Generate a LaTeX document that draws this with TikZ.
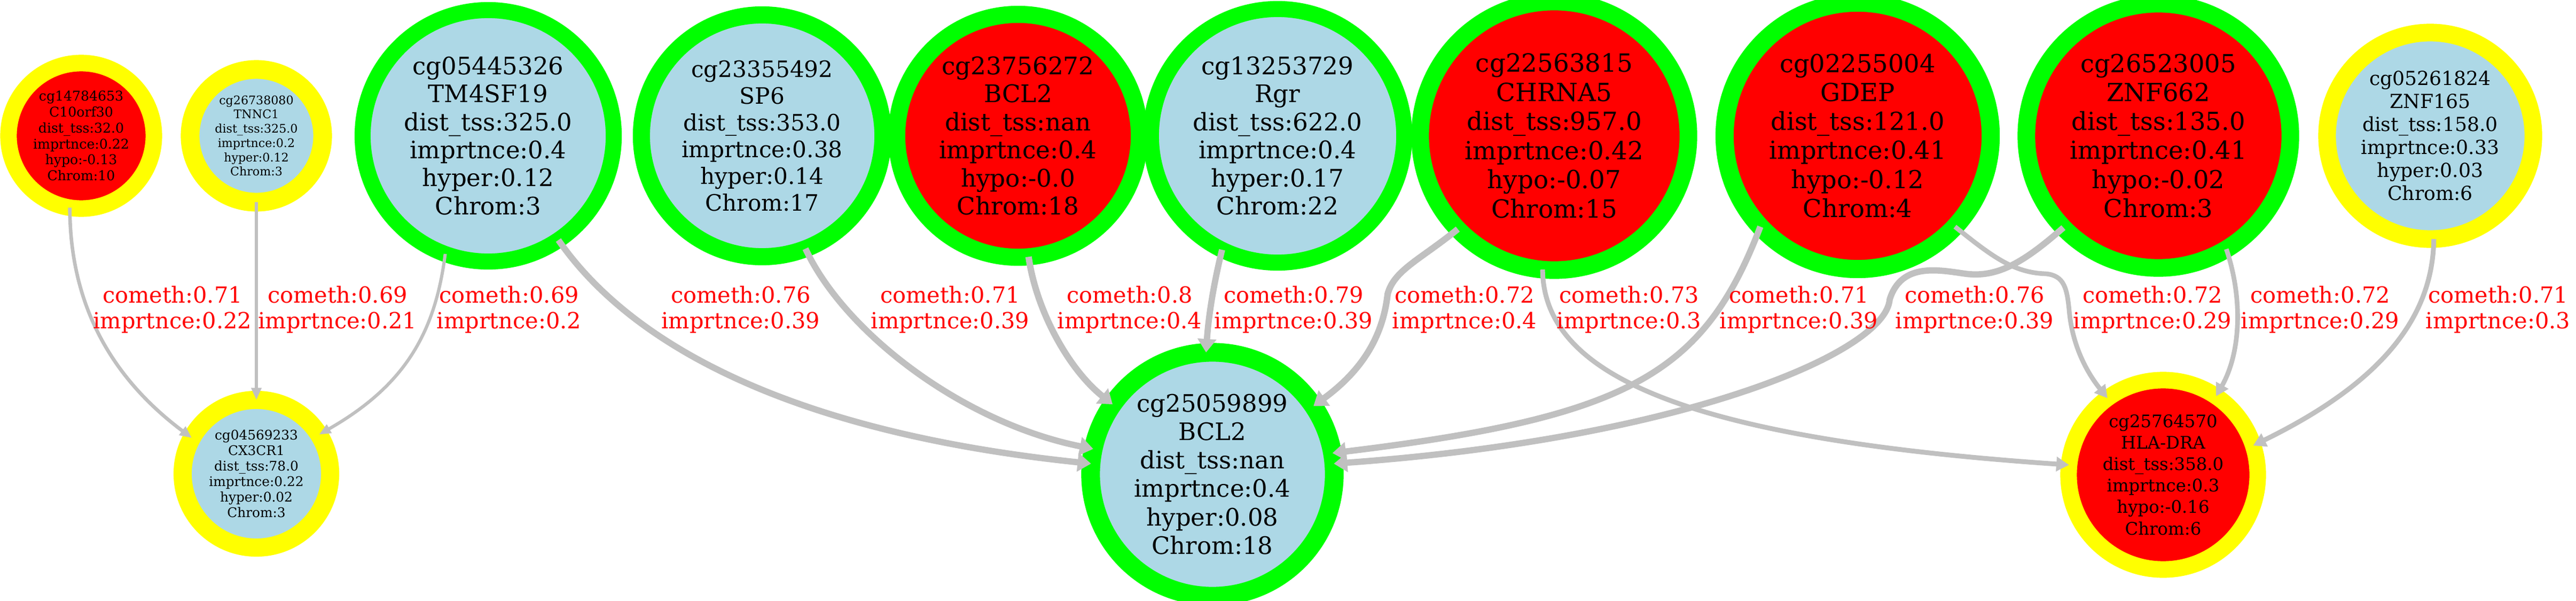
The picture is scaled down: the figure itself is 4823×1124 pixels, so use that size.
\documentclass[tikz,border=0pt]{standalone}
\usepackage{fontspec}
\setmainfont{DejaVu Serif}
\usetikzlibrary{arrows.meta}

\definecolor{hypored}{HTML}{FF0000}
\definecolor{hyperblue}{HTML}{ADD8E6}
\definecolor{hubgreen}{HTML}{00FF00}
\definecolor{leafyellow}{HTML}{FFFF00}
\definecolor{linkgray}{HTML}{C0C0C0}

\begin{document}
\begin{tikzpicture}[x=0.01cm,y=-0.01cm,
    cpg/.style={circle,inner sep=0pt,outer sep=0pt,align=center},
    hub/.style={cpg,draw=hubgreen},
    leaf/.style={cpg,draw=leafyellow},
    link/.style={draw=linkgray,line width=#1,-{Triangle[length=5.5pt 0.5,width=0pt 2.9]}},
    weight/.style={text=hypored,align=center,font=\fontsize{11.8}{13.7}\selectfont}]

    % white page, cut at the frame
    \useasboundingbox (0,0) rectangle (4823,1124);
    \fill[white] (0,0) rectangle (4823,1124);
    \clip (0,0) rectangle (4823,1124);

    % top row of probes
    \node[leaf,fill=hypored,minimum size=2.72cm,line width=0.31cm,font=\fontsize{7.15}{8.5}\selectfont] (c10orf30) at (152,254) {cg14784653\\C10orf30\\dist\_tss:32.0\\imprtnce:0.22\\hypo:-0.13\\Chrom:10};
    \node[leaf,fill=hyperblue,minimum size=2.48cm,line width=0.35cm,font=\fontsize{6.3}{7.6}\selectfont] (tnnc1) at (480,254) {cg26738080\\TNNC1\\dist\_tss:325.0\\imprtnce:0.2\\hyper:0.12\\Chrom:3};
    \node[hub,fill=hyperblue,minimum size=4.70cm,line width=0.30cm,font=\fontsize{12.8}{14.9}\selectfont] (tm4sf19) at (914,254) {cg05445326\\TM4SF19\\dist\_tss:325.0\\imprtnce:0.4\\hyper:0.12\\Chrom:3};
    \node[hub,fill=hyperblue,minimum size=4.52cm,line width=0.32cm,font=\fontsize{12.0}{14.2}\selectfont] (sp6) at (1427,254) {cg23355492\\SP6\\dist\_tss:353.0\\imprtnce:0.38\\hyper:0.14\\Chrom:17};
    \node[hub,fill=hypored,minimum size=4.54cm,line width=0.32cm,font=\fontsize{12.9}{14.9}\selectfont] (bcl2a) at (1906,254) {cg23756272\\BCL2\\dist\_tss:nan\\imprtnce:0.4\\hypo:-0.0\\Chrom:18};
    \node[hub,fill=hyperblue,minimum size=4.74cm,line width=0.30cm,font=\fontsize{12.9}{14.9}\selectfont] (rgr) at (2392,254) {cg13253729\\Rgr\\dist\_tss:622.0\\imprtnce:0.4\\hyper:0.17\\Chrom:22};
    \node[hub,fill=hypored,minimum size=5.02cm,line width=0.33cm,font=\fontsize{13.3}{15.5}\selectfont] (chrna5) at (2910,254) {cg22563815\\CHRNA5\\dist\_tss:957.0\\imprtnce:0.42\\hypo:-0.07\\Chrom:15};
    \node[hub,fill=hypored,minimum size=4.98cm,line width=0.34cm,font=\fontsize{13.2}{15.4}\selectfont] (gdep) at (3478,254) {cg02255004\\GDEP\\dist\_tss:121.0\\imprtnce:0.41\\hypo:-0.12\\Chrom:4};
    \node[hub,fill=hypored,minimum size=4.94cm,line width=0.33cm,font=\fontsize{13.2}{15.4}\selectfont] (znf662) at (4041,254) {cg26523005\\ZNF662\\dist\_tss:135.0\\imprtnce:0.41\\hypo:-0.02\\Chrom:3};
    \node[leaf,fill=hyperblue,minimum size=3.86cm,line width=0.33cm,font=\fontsize{10.3}{12.2}\selectfont] (znf165) at (4550,254) {cg05261824\\ZNF165\\dist\_tss:158.0\\imprtnce:0.33\\hyper:0.03\\Chrom:6};

    % bottom row of probes
    \node[leaf,fill=hyperblue,minimum size=2.76cm,line width=0.34cm,font=\fontsize{7.05}{8.25}\selectfont] (cx3cr1) at (480,886) {cg04569233\\CX3CR1\\dist\_tss:78.0\\imprtnce:0.22\\hyper:0.02\\Chrom:3};
    \node[hub,fill=hyperblue,minimum size=4.56cm,line width=0.35cm,font=\fontsize{12.8}{15.1}\selectfont] (bcl2b) at (2270,887) {cg25059899\\BCL2\\dist\_tss:nan\\imprtnce:0.4\\hyper:0.08\\Chrom:18};
    \node[leaf,fill=hypored,minimum size=3.54cm,line width=0.31cm,font=\fontsize{9.2}{11.4}\selectfont] (hladra) at (4050,888) {cg25764570\\HLA-DRA\\dist\_tss:358.0\\imprtnce:0.3\\hypo:-0.16\\Chrom:6};

    % co-methylation links
    \draw[link=0.066cm] (c10orf30.261) .. controls (131,560) and (200,700) .. (cx3cr1.151);
    \draw[link=0.063cm] (tnnc1.270) -- (cx3cr1.90);
    \draw[link=0.06cm] (tm4sf19.250) .. controls (815,620) and (760,720) .. (cx3cr1.32);
    \draw[link=0.117cm] (tm4sf19.304) .. controls (1150,600) and (1400,800) .. (bcl2b.175);
    \draw[link=0.117cm] (sp6.291) .. controls (1580,620) and (1800,790) .. (bcl2b.168);
    \draw[link=0.12cm] (bcl2a.275) .. controls (1940,580) and (2000,690) .. (bcl2b.145);
    \draw[link=0.117cm] (rgr.244) .. controls (2270,540) and (2262,600) .. (bcl2b.93);
    \draw[link=0.12cm] (chrna5.224) .. controls (2660,485) and (2610,505) .. (2598,550)
        .. controls (2588,640) and (2540,700) .. (bcl2b.34);
    \draw[link=0.09cm] (chrna5.265) .. controls (2890,700) and (3150,820) .. (hladra.174);
    \draw[link=0.117cm] (gdep.223) .. controls (3190,700) and (3050,780) .. (bcl2b.10);
    \draw[link=0.117cm] (znf662.224) .. controls (3790,490) and (3740,520) .. (3680,512)
        .. controls (3630,505) and (3560,490) .. (3538,560)
        .. controls (3530,660) and (3150,820) .. (bcl2b.5);
    \draw[link=0.087cm] (gdep.317) .. controls (3730,480) and (3770,510) .. (3830,512)
        .. controls (3865,515) and (3870,540) .. (3874,580)
        .. controls (3880,650) and (3910,700) .. (hladra.126);
    \draw[link=0.087cm] (znf662.301) .. controls (4200,560) and (4195,660) .. (hladra.56);
    \draw[link=0.09cm] (znf165.272) .. controls (4555,600) and (4450,720) .. (hladra.18);

    % link labels
    \foreach \x/\c/\i [count=\n] in {323/0.71/0.22, 632/0.69/0.21, 953/0.69/0.2,
        1387/0.76/0.39, 1779/0.71/0.39, 2115/0.8/0.4, 2422/0.79/0.39, 2742/0.72/0.4,
        3050/0.73/0.3, 3368/0.71/0.39, 3697/0.76/0.39, 4030/0.72/0.29,
        4344/0.72/0.29, 4677/0.71/0.3}
        \node[weight] (w\n) at (\x,579) {cometh:\c\\imprtnce:\i};
\end{tikzpicture}
\end{document}
